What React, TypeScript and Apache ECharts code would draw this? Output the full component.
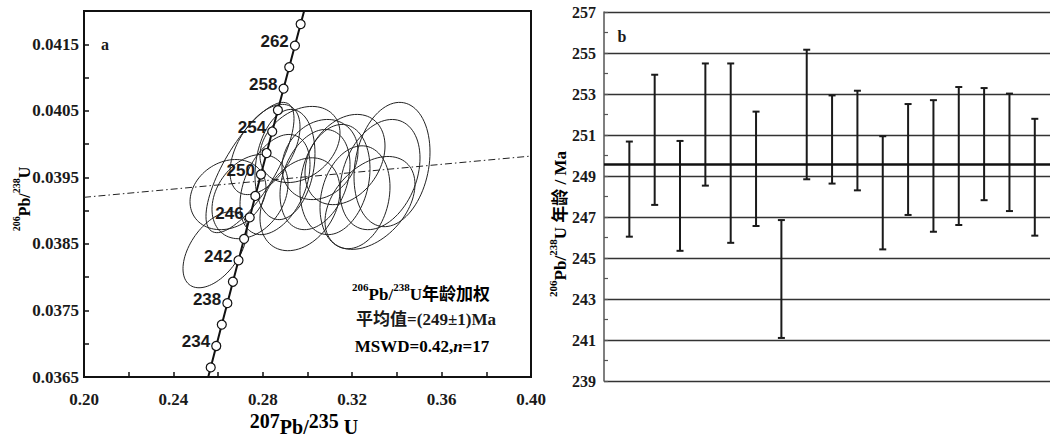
import React, { useEffect, useRef } from "react";
import * as echarts from "echarts";

// ---- Panel a: concordia ----
const concordiaAges = [232, 234, 236, 238, 240, 242, 244, 246, 248, 250, 252, 254, 256, 258, 260, 262, 264];
const concordiaX = [0.256695, 0.259173, 0.261655, 0.264143, 0.266635, 0.269133, 0.271635, 0.274142, 0.276654, 0.279171, 0.281693, 0.284221, 0.286753, 0.28929, 0.291832, 0.294379, 0.296931];
const concordiaY = [0.0366446, 0.0369661, 0.0372879, 0.0376097, 0.0379317, 0.0382538, 0.038576, 0.0388982, 0.0392206, 0.0395431, 0.0398656, 0.0401883, 0.0405111, 0.0408339, 0.0411569, 0.04148, 0.0418031];
const curveStart = [0.254222, 0.0363229];
const curveEnd = [0.299488, 0.0421265];
const labelledAges = [234, 238, 242, 246, 250, 254, 258, 262];

const ellipseX = [0.25861, 0.27427, 0.27427, 0.26443, 0.28099, 0.28546, 0.28993, 0.29664, 0.29664, 0.30336, 0.30559, 0.3123, 0.31678, 0.32125, 0.33244, 0.33781, 0.32796];
const ellipseY = [0.038413, 0.039648, 0.039211, 0.039241, 0.039919, 0.039392, 0.039693, 0.039994, 0.039096, 0.039467, 0.039768, 0.039467, 0.039768, 0.039201, 0.039542, 0.039693, 0.039116];
const ellipseSX = [0.01432, 0.01969, 0.017, 0.017, 0.01566, 0.01566, 0.01342, 0.0179, 0.0179, 0.01566, 0.017, 0.01566, 0.0179, 0.01566, 0.0179, 0.017, 0.02013];
const ellipseSY = [0.000572, 0.000979, 0.000633, 0.000527, 0.000678, 0.000753, 0.000828, 0.000572, 0.000698, 0.000753, 0.000602, 0.000828, 0.000678, 0.000773, 0.000828, 0.000934, 0.000698];
const ellipseRho = [0.5, 0.75, 0.3, 0.2, 0.5, 0.4, 0.2, 0.3, 0.3, 0.3, 0.2, 0.2, 0.3, 0.2, 0.3, 0.2, 0.4];

const discordX = [0.2, 0.4];
const discordY = [0.0392, 0.03982];

// ---- Panel b: weighted mean ----
const spotIndex = [1, 2, 3, 4, 5, 6, 7, 8, 9, 10, 11, 12, 13, 14, 15, 16, 17];
const ageHigh = [250.68, 253.94, 250.71, 254.49, 254.49, 252.14, 246.85, 255.16, 252.93, 253.16, 250.94, 252.51, 252.7, 253.34, 253.29, 253.02, 251.79];
const ageLow = [246.04, 247.59, 245.35, 248.53, 245.74, 246.56, 241.1, 248.84, 248.63, 248.3, 245.42, 247.1, 246.28, 246.61, 247.82, 247.29, 246.09];
const meanAge = 249.55;

const SERIF = "'Liberation Serif', 'Times New Roman', 'Noto Sans CJK SC', serif";
const SANS = "'Liberation Sans', Arial, sans-serif";

export default function App() {
  const ref = useRef<HTMLDivElement>(null);
  useEffect(() => {
    if (!ref.current) return;
    const chart = echarts.init(ref.current, undefined, { renderer: "svg" });

    const ellipseData = ellipseX.map((x, i) => [x, ellipseY[i], ellipseSX[i], ellipseSY[i], ellipseRho[i]]);
    const curveData = [curveStart, ...concordiaX.map((x, i) => [x, concordiaY[i]]), curveEnd];
    const markerData = concordiaX.map((x, i) => ({
      value: [x, concordiaY[i]],
      age: concordiaAges[i],
      label: { show: labelledAges.includes(concordiaAges[i]) },
    }));
    const barData = spotIndex.map((s, i) => [s, ageLow[i], ageHigh[i]]);

    const supStyle = (size: number) => ({ fontSize: size, fontWeight: "bold", fontFamily: SERIF, color: "#1a1a1a", verticalAlign: "top" });
    const baseStyle = (size: number, pad: number, italic = false) => ({
      fontSize: size,
      fontWeight: "bold",
      fontStyle: italic ? "italic" : "normal",
      fontFamily: SERIF,
      color: "#1a1a1a",
      verticalAlign: "bottom",
      padding: [pad, 0, 0, 0],
    });

    const option: any = {
      animation: false,
      backgroundColor: "#fff",
      grid: [
        { left: 84, top: 11, width: 447, height: 366, show: true, borderColor: "#111", borderWidth: 2, backgroundColor: "transparent" },
        { left: 604, top: 12, width: 446, height: 369 },
      ],
      xAxis: [
        {
          gridIndex: 0, type: "value", min: 0.2, max: 0.4, interval: 0.02,
          axisLine: { show: true, lineStyle: { color: "#111", width: 2 } },
          axisTick: { show: true, inside: true, length: 5, lineStyle: { color: "#111", width: 1.5 } },
          splitLine: { show: false },
          axisLabel: {
            margin: 14, fontSize: 17, fontWeight: "bold", fontFamily: SERIF, color: "#1a1a1a",
            formatter: (v: number) => (Math.round(v * 100) % 4 === 0 ? v.toFixed(2) : ""),
          },
        },
        { gridIndex: 1, type: "value", min: 0, max: 17.6, show: false },
      ],
      yAxis: [
        {
          gridIndex: 0, type: "value", min: 0.0365, max: 0.042, interval: 0.0005,
          axisLine: { show: true, lineStyle: { color: "#111", width: 2 } },
          axisTick: { show: true, inside: true, length: 5, lineStyle: { color: "#111", width: 1.5 } },
          splitLine: { show: false },
          axisLabel: {
            margin: 5, fontSize: 17, fontWeight: "bold", fontFamily: SERIF, color: "#1a1a1a",
            formatter: (v: number) => (Math.round(v * 10000) % 10 === 5 ? v.toFixed(4) : ""),
          },
        },
        {
          gridIndex: 1, type: "value", min: 239, max: 257, interval: 1,
          axisLine: { show: true, lineStyle: { color: "#555", width: 1.5 } },
          axisTick: { show: true, inside: true, length: 4, lineStyle: { color: "#555", width: 1.2 } },
          splitLine: { show: true, lineStyle: { color: ["#333", "rgba(0,0,0,0)"], width: 1.3 } },
          axisLabel: {
            margin: 8, fontSize: 16, fontWeight: "bold", fontFamily: SERIF, color: "#1a1a1a",
            formatter: (v: number) => (Math.round(v) % 2 === 1 ? String(Math.round(v)) : ""),
          },
        },
      ],
      series: [
        {
          type: "custom", xAxisIndex: 0, yAxisIndex: 0, data: ellipseData, encode: { x: 0, y: 1 },
          renderItem: (params: any, api: any) => {
            const cx = api.value(0), cy = api.value(1), sx = api.value(2), sy = api.value(3), r = api.value(4);
            const pts: number[][] = [];
            const q = Math.sqrt(1 - r * r);
            for (let k = 0; k <= 90; k++) {
              const t = (k / 90) * Math.PI * 2;
              pts.push(api.coord([cx + sx * Math.cos(t), cy + sy * (r * Math.cos(t) + q * Math.sin(t))]));
            }
            return { type: "polyline", shape: { points: pts }, style: { fill: "none", stroke: "#222", lineWidth: 1 } };
          },
          z: 2,
        },
        {
          type: "line", xAxisIndex: 0, yAxisIndex: 0,
          data: discordX.map((x, i) => [x, discordY[i]]),
          symbol: "none",
          lineStyle: { color: "#222", width: 1, type: [7, 3, 1.5, 3] },
          z: 3,
        },
        {
          type: "line", xAxisIndex: 0, yAxisIndex: 0, data: curveData, symbol: "none", clip: true,
          lineStyle: { color: "#111", width: 2 }, z: 4,
        },
        {
          type: "scatter", xAxisIndex: 0, yAxisIndex: 0, data: markerData, symbol: "circle", symbolSize: 9,
          itemStyle: { color: "#fff", borderColor: "#111", borderWidth: 1.2, opacity: 1 },
          label: {
            show: false, position: "left", distance: 1, offset: [0, -4],
            fontSize: 17, fontWeight: "bold", fontFamily: SANS, color: "#1a1a1a",
            formatter: (p: any) => String(p.data.age),
          },
          z: 5,
        },
        {
          type: "custom", xAxisIndex: 1, yAxisIndex: 1, data: barData, encode: { x: 0, y: [1, 2] },
          renderItem: (params: any, api: any) => {
            const x = api.value(0);
            const lo = api.coord([x, api.value(1)]);
            const hi = api.coord([x, api.value(2)]);
            const w = 3.5;
            const st = { stroke: "#1a1a1a", lineWidth: 2 };
            return {
              type: "group",
              children: [
                { type: "line", shape: { x1: lo[0], y1: lo[1], x2: hi[0], y2: hi[1] }, style: st },
                { type: "line", shape: { x1: lo[0] - w, y1: lo[1], x2: lo[0] + w, y2: lo[1] }, style: st },
                { type: "line", shape: { x1: hi[0] - w, y1: hi[1], x2: hi[0] + w, y2: hi[1] }, style: st },
              ],
            };
          },
          markLine: {
            silent: true, symbol: ["none", "none"], label: { show: false },
            lineStyle: { color: "#111", width: 2.5, type: "solid" },
            data: [{ yAxis: meanAge }],
          },
          z: 3,
        },
      ],
      graphic: [
        { type: "text", x: 105, y: 44, style: { text: "a", fontSize: 16, fontWeight: "bold", fontFamily: SERIF, fill: "#1a1a1a", align: "center", verticalAlign: "middle" } },
        { type: "text", x: 622, y: 36, style: { text: "b", fontSize: 16, fontWeight: "bold", fontFamily: SERIF, fill: "#1a1a1a", align: "center", verticalAlign: "middle" } },
        {
          type: "text", x: 304, y: 424,
          style: {
            text: "{s|207}{b|Pb/}{s|235}{b| U}", align: "center", verticalAlign: "middle",
            rich: { s: supStyle(20), b: baseStyle(20, 6) },
          },
        },
        {
          type: "text", x: 22, y: 199, rotation: Math.PI / 2,
          style: {
            text: "{s|206}{b|Pb/}{s|238}{b|U}", align: "center", verticalAlign: "middle",
            rich: { s: supStyle(10), b: baseStyle(16, 5) },
          },
        },
        {
          type: "text", x: 558, y: 224, rotation: Math.PI / 2,
          style: {
            text: "{s|206}{b|Pb/}{s|238}{b|U 年龄 / Ma}", align: "center", verticalAlign: "middle",
            rich: { s: supStyle(11), b: baseStyle(17, 4) },
          },
        },
        {
          type: "text", x: 421, y: 292,
          style: {
            text: "{s|206}{b|Pb/}{s|238}{b|U年龄加权}", align: "center", verticalAlign: "middle",
            rich: { s: supStyle(11), b: baseStyle(17, 4) },
          },
        },
        { type: "text", x: 426, y: 319, style: { text: "平均值=(249±1)Ma", fontSize: 17, fontWeight: "bold", fontFamily: SERIF, fill: "#1a1a1a", align: "center", verticalAlign: "middle" } },
        {
          type: "text", x: 422, y: 346,
          style: {
            text: "{b|MSWD=0.42,}{i|n}{b|=17}", align: "center", verticalAlign: "middle",
            rich: { b: baseStyle(17, 0), i: baseStyle(17, 0, true) },
          },
        },
      ],
    };
    chart.setOption(option);
    return () => chart.dispose();
  }, []);
  return <div ref={ref} style={{ position: "fixed", left: 0, top: 0, width: 1050, height: 439 }} />;
}
